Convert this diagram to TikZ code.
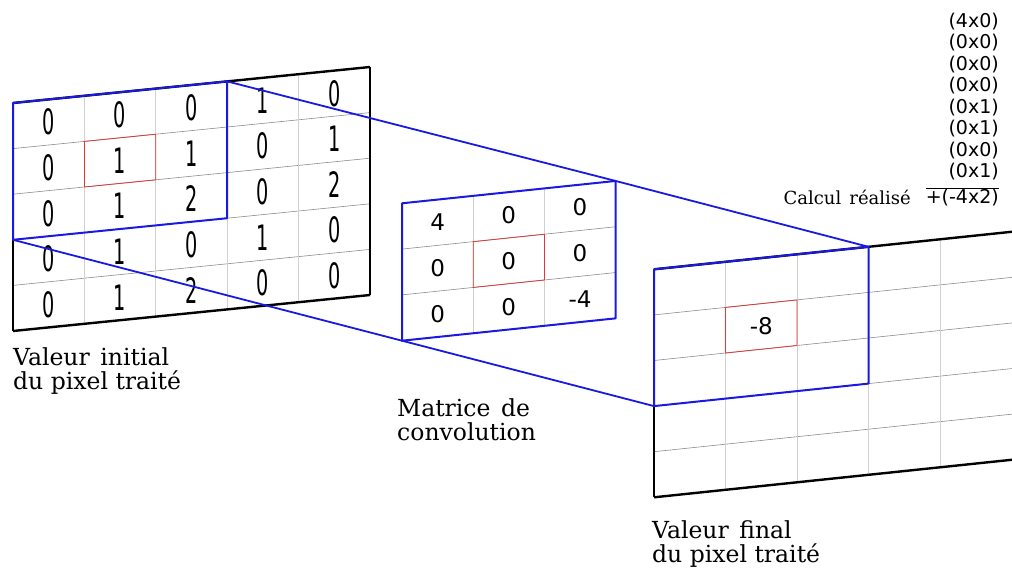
\documentclass[tikz,border=0pt]{standalone}
\usepackage{fontspec}
\setmainfont{DejaVu Serif}
\newfontfamily\digitfont{DejaVu Sans}
\newfontfamily\tallfont[FakeStretch=0.55]{DejaVu Sans}
\definecolor{winblue}{RGB}{25,25,225}
\definecolor{focusred}{RGB}{225,55,55}
\setlength{\arrayrulewidth}{1.2pt}
\newcommand\widewords{\spaceskip=0.45em\relax}
\tikzset{
  rowline/.style={draw=black!45, line width=0.6pt},
  colline/.style={draw=black!18, line width=0.9pt},
  edge/.style={draw=black, line width=2.4pt},
  side/.style={draw=black, line width=1.4pt},
  window/.style={draw=winblue, line width=2pt, line join=round},
  link/.style={draw=winblue, line width=1.8pt},
  focus/.style={draw=focusred, line width=0.8pt},
  pix/.style={inner sep=0pt, font=\tallfont\fontsize{35}{35}\selectfont},
  kern/.style={inner sep=0pt, font=\digitfont\fontsize{23}{23}\selectfont},
  caption/.style={anchor=north west, align=left, inner sep=0pt,
    font=\fontsize{23.5}{24}\selectfont}
}
\begin{document}
\begin{tikzpicture}[x=1pt,y=-1pt]
  \clip (0,0) rectangle (1012,570);

  % image d'entree
  \begin{scope}[shift={(13,103)},x={(71.4pt,7.2pt)},y={(0pt,-45.6pt)}]
    \foreach \r in {1,...,4} \draw[rowline] (0,\r) -- (5,\r);
    \foreach \c in {1,...,4} \draw[colline] (\c,0) -- (\c,5);
    \draw[edge] (0,0) -- (5,0);
    \draw[edge] (0,5) -- (5,5);
    \draw[side] (0,0) -- (0,5);
    \draw[side] (5,0) -- (5,5);
    \path[nodes=pix]
      (0.5,0.5) node (p00){0} (1.5,0.5) node (p01){0} (2.5,0.5) node (p02){0} (3.5,0.5) node (p03){1} (4.5,0.5) node (p04){0}
      (0.5,1.5) node (p10){0} (1.5,1.5) node (p11){1} (2.5,1.5) node (p12){1} (3.5,1.5) node (p13){0} (4.5,1.5) node (p14){1}
      (0.5,2.5) node (p20){0} (1.5,2.5) node (p21){1} (2.5,2.5) node (p22){2} (3.5,2.5) node (p23){0} (4.5,2.5) node (p24){2}
      (0.5,3.5) node (p30){0} (1.5,3.5) node (p31){1} (2.5,3.5) node (p32){0} (3.5,3.5) node (p33){1} (4.5,3.5) node (p34){0}
      (0.5,4.5) node (p40){0} (1.5,4.5) node (p41){1} (2.5,4.5) node (p42){2} (3.5,4.5) node (p43){0} (4.5,4.5) node (p44){0};
    \coordinate (inTR) at (3,0);
    \coordinate (inBL) at (0,3);
    \draw[window] (0,0) -- (inTR) -- (3,3) -- (inBL) -- cycle;
    \draw[focus] (1,1) -- (2,1) -- (2,2) -- (1,2) -- cycle;
  \end{scope}

  % matrice de convolution
  \begin{scope}[shift={(402,203.3)},x={(71.2pt,7.45pt)},y={(0pt,-45.8pt)}]
    \foreach \r in {1,2} \draw[rowline] (0,\r) -- (3,\r);
    \foreach \c in {1,2} \draw[colline] (\c,0) -- (\c,3);
    \path[nodes=kern]
      (0.5,0.5) node (k00){4} (1.5,0.5) node (k01){0} (2.5,0.5) node (k02){0}
      (0.5,1.5) node (k10){0} (1.5,1.5) node (k11){0} (2.5,1.5) node (k12){0}
      (0.5,2.5) node (k20){0} (1.5,2.5) node (k21){0} (2.5,2.5) node (k22){-4};
    \coordinate (kerTR) at (3,0);
    \coordinate (kerBL) at (0,3);
    \draw[window] (0,0) -- (kerTR) -- (3,3) -- (kerBL) -- cycle;
    \draw[focus] (1,1) -- (2,1) -- (2,2) -- (1,2) -- cycle;
  \end{scope}

  % image de sortie
  \begin{scope}[shift={(654,269.3)},x={(71.5pt,7.5pt)},y={(0pt,-45.6pt)}]
    \foreach \r in {1,...,4} \draw[rowline] (0,\r) -- (5.2,\r);
    \foreach \c in {1,...,4} \draw[colline] (\c,0) -- (\c,5);
    \draw[edge] (0,0) -- (5.2,0);
    \draw[edge] (0,5) -- (5.2,5);
    \draw[side] (0,0) -- (0,5);
    \node[kern] (res) at (1.5,1.5) {-8};
    \coordinate (outTR) at (3,0);
    \coordinate (outBL) at (0,3);
    \draw[window] (0,0) -- (outTR) -- (3,3) -- (outBL) -- cycle;
    \draw[focus] (1,1) -- (2,1) -- (2,2) -- (1,2) -- cycle;
  \end{scope}

  \draw[link] (inTR) -- (kerTR) -- (outTR);
  \draw[link] (inBL) -- (kerBL) -- (outBL);

  \node[caption] (inlabel) at (13,347) {\widewords Valeur initial\\du pixel traité};
  \node[caption] (kerlabel) at (397,398) {\widewords Matrice de\\convolution};
  \node[caption] (outlabel) at (652,520.5) {\widewords Valeur final\\du pixel traité};

  \node[anchor=north east, inner sep=0pt, font=\digitfont\fontsize{19}{21.5}\selectfont] (steps) at (999,12)
    {\begin{tabular}{@{}r@{}}(4x0)\\(0x0)\\(0x0)\\(0x0)\\(0x1)\\(0x1)\\(0x0)\\(0x1)\\[3.5pt]\hline +(-4x2)\end{tabular}};
  \node[anchor=base east, inner sep=0pt, font=\fontsize{18}{20}\selectfont] (calc) at (911,204) {\widewords Calcul réalisé};
\end{tikzpicture}
\end{document}
